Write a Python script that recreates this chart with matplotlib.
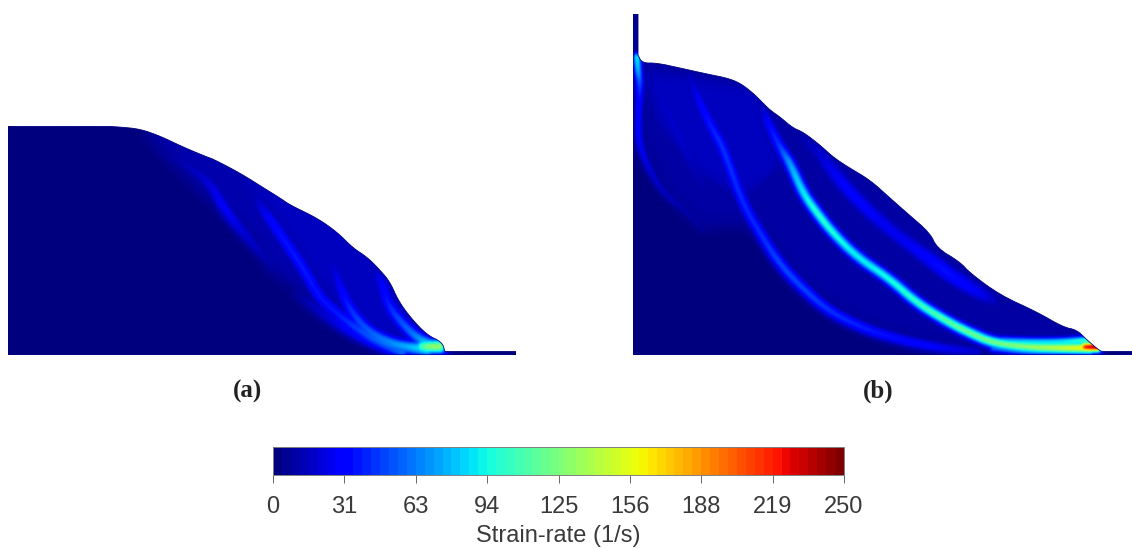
import numpy as np
import matplotlib
matplotlib.use("Agg")
import matplotlib.pyplot as plt
from matplotlib.cm import ScalarMappable
from matplotlib.colors import Normalize
from matplotlib.patches import Polygon
from matplotlib.path import Path

plt.rcParams["font.family"] = ["Liberation Sans", "DejaVu Sans"]

# all panel data: distance along the base / height above the base, strain-rate in 1/s
# panel (a) free surface, then the thin strip and the base
a_surface_x = [0, 30, 92, 112, 132, 152, 175, 199, 205, 232, 259, 272, 282, 309, 329, 345, 359, 372, 382, 390, 402, 419, 434, 437]
a_surface_y = [229, 228.5, 229, 228, 226, 219, 208, 198, 196, 182, 165, 157, 150, 137, 123, 107, 98, 85, 73, 55, 38, 20, 13, 3.5]
a_base_x = [437, 508, 508, 0]
a_base_y = [3.5, 3.5, 0, 0]

# panel (a) slow moving zones above the failure surface
a_zone_x = [135, 192, 242, 262, 305, 362, 395, 445, 445, 300]
a_zone_y = [225, 165, 120, 85, 55, 15, 2, 0, 40, 240]
a_zone_rate = 10
a_zone2_x = [205, 262, 299, 332, 375, 445, 445, 320]
a_zone2_y = [196, 137, 82, 40, 12, 0, 40, 160]
a_zone2_rate = 14

# panel (a) shear bands
a_band1_x = [155, 180, 202, 215, 228, 249, 272]
a_band1_y = [203, 190, 173, 150, 132, 108, 82]
a_band1_rate = [6, 12, 20, 30, 24, 14, 7]

a_band2_x = [249, 262, 282, 299, 312, 332, 352, 375, 402, 420]
a_band2_y = [155, 137, 108, 82, 58, 40, 25, 12, 7, 5]
a_band2_rate = [14, 32, 38, 38, 36, 38, 50, 60, 70, 90]

a_band3_x = [316, 325, 335, 345, 362, 389, 420]
a_band3_y = [118, 92, 62, 42, 23, 10, 7]
a_band3_rate = [8, 16, 32, 46, 56, 70, 92]

a_band4_x = [370, 375, 380, 392, 409, 425]
a_band4_y = [80, 72, 52, 35, 18, 10]
a_band4_rate = [20, 30, 38, 52, 64, 95]

a_edge_x = [289, 305, 332, 362, 395]
a_edge_y = [62, 50, 30, 15, 3]
a_edge_rate = [6, 14, 24, 40, 60]

a_toe_x = [415, 423, 432]
a_toe_y = [9, 9, 9]
a_toe_rate = [115, 135, 135]

# panel (b) free surface, then the wall on the left and the strip
b_surface_x = [5, 9, 24, 47, 74, 94, 107, 120, 130, 137, 147, 160, 170, 187, 200, 215, 237, 257, 274, 297, 304, 327, 337, 367, 404, 430, 444, 454, 467, 470]
b_surface_y = [300, 292, 292, 287, 281, 277, 272, 262, 252, 245, 238, 227, 223, 210, 198, 188, 175, 157, 142, 122, 107, 93, 82, 60, 43, 28, 25, 15, 4, 3.5]
b_base_x = [470, 499, 499, 0, 0, 5]
b_base_y = [3.5, 3.5, 0, 0, 341, 341]

b_zone_x = [0, 5, 32, 69, 100, 127, 164, 227, 300, 344, 470, 470, 200, 0]
b_zone_y = [300, 215, 160, 125, 130, 122, 72, 28, 8, 0, 0, 60, 300, 340]
b_zone_rate = 8
b_zone2_x = [5, 129, 155, 110, 62, 20]
b_zone2_y = [292, 270, 190, 150, 180, 230]
b_zone2_rate = 14
b_zone3_x = [170, 227, 300, 344, 420, 470, 330, 200]
b_zone3_y = [225, 180, 125, 85, 40, 20, 110, 225]
b_zone3_rate = 10

# panel (b) shear bands
b_main_x = [129, 137, 147, 157, 170, 184, 200, 224, 257, 284, 317, 337, 360, 394, 427, 457]
b_main_y = [247, 228, 208, 192, 162, 142, 122, 98, 76, 52, 32, 22, 12, 8, 7, 7]
b_main_rate = [15, 35, 45, 75, 92, 105, 100, 92, 98, 106, 118, 122, 125, 134, 150, 170]

b_streak_x = [360, 394, 427, 457]
b_streak_y = [15, 13, 13, 15]
b_streak_rate = [70, 90, 90, 110]

b_under_x = [360, 394, 427, 457]
b_under_y = [7, 4, 4, 4]
b_under_rate = [60, 85, 90, 105]

b_lower_x = [57, 67, 80, 90, 109, 127, 144, 164, 194, 227, 260, 300, 344]
b_lower_y = [278, 252, 225, 208, 153, 122, 95, 72, 45, 28, 17, 8, 3]
b_lower_rate = [14, 30, 40, 45, 42, 42, 50, 50, 45, 40, 35, 30, 18]

b_upper_x = [172, 187, 204, 227, 257, 284, 307, 317, 344, 360]
b_upper_y = [215, 202, 178, 152, 125, 105, 88, 80, 63, 55]
b_upper_rate = [12, 18, 28, 30, 25, 28, 35, 35, 28, 15]

b_wall_x = [4, 5, 7, 6, 5, 15, 32, 55, 69]
b_wall_y = [298, 285, 270, 250, 215, 187, 160, 143, 125]
b_wall_rate = [95, 80, 48, 30, 30, 20, 14, 10, 6]

b_faint_x = [27, 47, 70]
b_faint_y = [258, 218, 170]
b_faint_rate = [15, 18, 10]

b_tip_x = [452, 458, 464]
b_tip_y = [8, 8, 8]
b_tip_rate = [225, 240, 245]

# colour bar
cbar_ticks = [0, 31.25, 62.5, 93.75, 125, 156.25, 187.5, 218.75, 250]
cbar_labels = ["0", "31", "63", "94", "125", "156", "188", "219", "250"]

bar_cmap = plt.get_cmap("jet", 64)
norm = Normalize(0, 250)


def smooth(field, sigma):
    # separable gaussian, same size as input
    n = int(sigma * 3) + 1
    k = np.exp(-0.5 * (np.arange(-n, n + 1) / sigma) ** 2)
    k = k / k.sum()
    field = np.apply_along_axis(lambda v: np.convolve(v, k, mode="same"), 0, field)
    return np.apply_along_axis(lambda v: np.convolve(v, k, mode="same"), 1, field)


def round_corners(x, y, passes=2):
    # chaikin corner cutting, first and last point stay where they are
    pts = np.column_stack([x, y])
    for i in range(passes):
        q = 0.75 * pts[:-1] + 0.25 * pts[1:]
        r = 0.25 * pts[:-1] + 0.75 * pts[1:]
        mid = np.empty((2 * len(q), 2))
        mid[0::2] = q
        mid[1::2] = r
        pts = np.vstack([pts[0], mid, pts[-1]])
    return pts


def add_zone(field, gx, gy, x, y, rate):
    inside = Path(np.column_stack([x, y])).contains_points(np.column_stack([gx.ravel(), gy.ravel()]))
    blurred = smooth(inside.reshape(gx.shape).astype(float), 7) * rate
    return np.maximum(field, blurred)


def add_band(field, gx, gy, x, y, rate, sigma):
    # walk along the rounded centre line and stamp a soft ridge
    line = round_corners(x, y, 3)
    r_line = round_corners(rate, rate, 3)[:, 0]
    s = np.r_[0, np.cumsum(np.hypot(np.diff(line[:, 0]), np.diff(line[:, 1])))]
    t = np.arange(0, s[-1] + 1, 1.0)
    px, py, pr = np.interp(t, s, line[:, 0]), np.interp(t, s, line[:, 1]), np.interp(t, s, r_line)
    for a, b, r in zip(px, py, pr):
        stamp = r * np.exp(-((gx - a) ** 2 + (gy - b) ** 2) / (2 * sigma ** 2))
        field = np.maximum(field, stamp)
    return field


def draw_panel(ax, field, w, h, sx, sy, bx, by):
    ax.set_xlim(0, w)
    ax.set_ylim(0, h)
    ax.axis("off")
    curve = round_corners(sx, sy)
    outline = Polygon(np.vstack([curve, np.column_stack([bx, by])]), closed=True, fc="none", ec=plt.cm.jet(0), lw=0.6, zorder=3)
    ax.add_patch(outline)
    im = ax.imshow(field, origin="lower", extent=(-0.5, w + 0.5, -0.5, h + 0.5), cmap="jet", norm=norm,
                   interpolation="bilinear", aspect="auto", zorder=2)
    im.set_clip_path(outline)
    ax.set_xlim(0, w)
    ax.set_ylim(0, h)


fig = plt.figure(figsize=(11.32, 5.49), dpi=100)
W, H = 1132.0, 549.0

# panel (a)
gx, gy = np.meshgrid(np.arange(0, 509), np.arange(0, 230))
f1 = np.zeros(gx.shape)
f1 = add_zone(f1, gx, gy, a_zone_x, a_zone_y, a_zone_rate)
f1 = add_zone(f1, gx, gy, a_zone2_x, a_zone2_y, a_zone2_rate)
f1 = add_band(f1, gx, gy, a_edge_x, a_edge_y, a_edge_rate, 4.5)
f1 = add_band(f1, gx, gy, a_band1_x, a_band1_y, a_band1_rate, 4.5)
f1 = add_band(f1, gx, gy, a_band2_x, a_band2_y, a_band2_rate, 4.5)
f1 = add_band(f1, gx, gy, a_band3_x, a_band3_y, a_band3_rate, 4.5)
f1 = add_band(f1, gx, gy, a_band4_x, a_band4_y, a_band4_rate, 4.5)
f1 = add_band(f1, gx, gy, a_toe_x, a_toe_y, a_toe_rate, 5)
f1 = smooth(f1, 1.2)
ax1 = fig.add_axes([8 / W, 1 - 355 / H, 508 / W, 229 / H])
draw_panel(ax1, f1, 508, 229, a_surface_x, a_surface_y, a_base_x, a_base_y)

# panel (b)
gx, gy = np.meshgrid(np.arange(0, 500), np.arange(0, 342))
f2 = np.zeros(gx.shape)
f2 = add_zone(f2, gx, gy, b_zone_x, b_zone_y, b_zone_rate)
f2 = add_zone(f2, gx, gy, b_zone2_x, b_zone2_y, b_zone2_rate)
f2 = add_zone(f2, gx, gy, b_zone3_x, b_zone3_y, b_zone3_rate)
f2 = add_band(f2, gx, gy, b_faint_x, b_faint_y, b_faint_rate, 7)
f2 = add_band(f2, gx, gy, b_wall_x, b_wall_y, b_wall_rate, 3)
f2 = add_band(f2, gx, gy, b_upper_x, b_upper_y, b_upper_rate, 6)
f2 = add_band(f2, gx, gy, b_lower_x, b_lower_y, b_lower_rate, 4)
f2 = add_band(f2, gx, gy, b_streak_x, b_streak_y, b_streak_rate, 3)
f2 = add_band(f2, gx, gy, b_under_x, b_under_y, b_under_rate, 3)
f2 = add_band(f2, gx, gy, b_main_x, b_main_y, b_main_rate, 4)
f2 = add_band(f2, gx, gy, b_tip_x, b_tip_y, b_tip_rate, 3.5)
f2 = smooth(f2, 1.0)
ax2 = fig.add_axes([633 / W, 1 - 355 / H, 499 / W, 341 / H])
draw_panel(ax2, f2, 499, 341, b_surface_x, b_surface_y, b_base_x, b_base_y)

fig.text(248 / W, 1 - 391 / H, "(a)", family="Liberation Serif", weight="bold", fontsize=18, color="#222222", ha="center", va="center")
fig.text(878 / W, 1 - 391 / H, "(b)", family="Liberation Serif", weight="bold", fontsize=18, color="#222222", ha="center", va="center")

# colour bar
cax = fig.add_axes([273 / W, 1 - 475 / H, 571 / W, 28 / H])
cb = fig.colorbar(ScalarMappable(norm=norm, cmap=bar_cmap), cax=cax, orientation="horizontal")
cb.set_ticks(cbar_ticks)
cb.set_ticklabels(cbar_labels)
cb.ax.tick_params(length=6, width=0.7, color="#666666", labelcolor="#3a3a3a", labelsize=17, pad=9)
cb.outline.set_edgecolor("#808080")
cb.outline.set_linewidth(0.7)
cb.set_label("Strain-rate (1/s)", fontsize=17, color="#3a3a3a", labelpad=5)

fig.savefig("out.png", dpi=100)
